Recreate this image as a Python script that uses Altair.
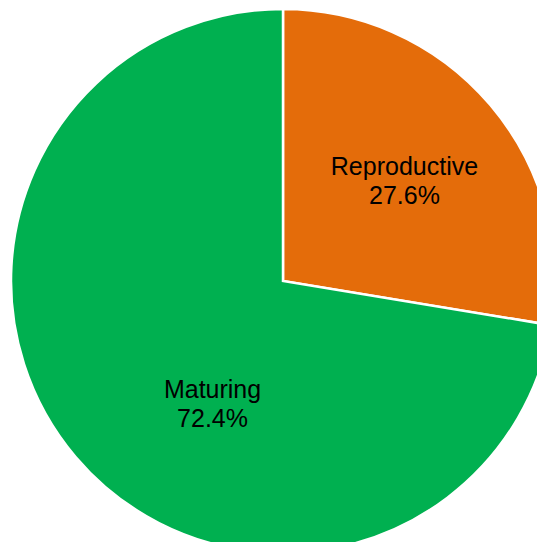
import altair as alt
import pandas as pd

categories = ["Reproductive", "Maturing"]
shares = [27.6, 72.4]
labels = ["27.6%", "72.4%"]
colors = ["#E46C0A", "#00B050"]

df = pd.DataFrame({"cat": categories, "val": shares, "pct": labels, "order": [0, 1]})
df["lines"] = [[c, p] for c, p in zip(categories, labels)]

CX, CY, R = 275, 273, 272

pie = alt.Chart(df).mark_arc(radius=R, stroke="white", strokeWidth=2.5).encode(
    theta=alt.Theta("val:Q", stack=True, scale=alt.Scale(domain=[0, 100])),
    order=alt.Order("order:Q"),
    color=alt.Color("cat:N", scale=alt.Scale(domain=categories, range=colors), legend=None),
)

txt_kw = dict(font="Liberation Sans", fontSize=25, color="black", lineHeight=29, align="center", baseline="middle")


def label_layer(name, radius, dx, dy):
    return alt.Chart(df).transform_window(
        cum="sum(val)", sort=[alt.SortField("order")]
    ).transform_calculate(
        mid="datum.cum - datum.val / 2"
    ).transform_filter(
        alt.datum.cat == name
    ).mark_text(radius=radius, dx=dx, dy=dy, **txt_kw).encode(
        theta=alt.Theta("mid:Q", stack=None, scale=alt.Scale(domain=[0, 100])),
        text="lines",
    )


t1 = label_layer("Reproductive", 158, 1, -12)
t2 = label_layer("Maturing", 158, 50, 7)

chart = alt.layer(pie, t1, t2).encode(
    x=alt.value(CX), y=alt.value(CY)
).properties(
    width=529, height=534, padding=0, autosize="none", background="white"
).configure_view(stroke=None)

chart.save("out.html", embed_options={"renderer": "svg", "actions": False})
